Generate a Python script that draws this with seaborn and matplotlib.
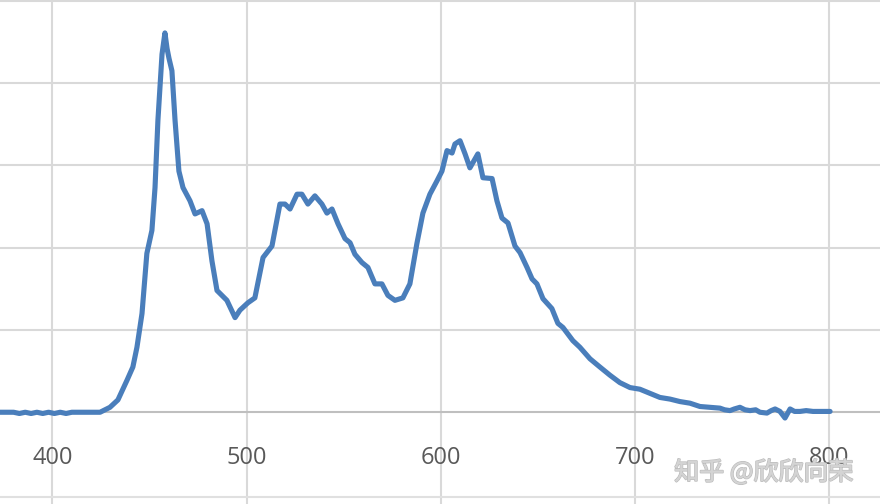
import matplotlib
matplotlib.use("Agg")
import matplotlib.pyplot as plt
import matplotlib.patheffects as pe
import seaborn as sns
import pandas as pd

# spectrum (wavelength in nm, relative intensity)
wavelength = [373.0, 380.0, 383.0, 386.0, 389.0, 392.0, 395.0, 398.0, 401.0, 404.0,
              407.0, 410.0, 415.0, 420.0, 424.5, 429.6, 433.7, 438.4, 441.4, 443.5,
              446.1, 448.6, 451.2, 452.8, 454.3, 456.4, 457.9, 459.0, 460.0, 461.5,
              463.1, 465.1, 467.2, 470.8, 473.4, 477.0, 479.6, 482.1, 484.7, 489.8,
              494.0, 496.5, 500.6, 504.2, 508.4, 513.0, 517.1, 519.7, 522.3, 525.9,
              528.4, 531.5, 535.1, 538.7, 541.3, 543.9, 547.0, 550.6, 553.2, 555.7,
              559.3, 562.4, 566.0, 569.6, 572.7, 576.3, 580.4, 584.0, 587.6, 590.7,
              594.3, 597.9, 600.5, 603.1, 605.7, 607.2, 609.8, 612.4, 614.9, 619.0,
              621.6, 626.3, 628.8, 631.4, 634.5, 638.1, 640.7, 644.3, 646.9, 649.4,
              652.5, 657.1, 660.2, 662.8, 667.9, 671.5, 676.7, 681.8, 687.0, 692.1,
              697.3, 702.4, 707.6, 712.7, 717.9, 723.0, 728.2, 733.3, 738.5, 743.6,
              746.0, 748.8, 751.0, 753.9, 756.5, 759.1, 762.0, 764.2, 767.8, 770.0,
              772.0, 774.5, 777.1, 779.7, 782.0, 784.8, 788.0, 791.5, 795.0, 800.3]
intensity = [0.00, 0.00, -0.015, 0.00, -0.015, 0.00, -0.015, 0.00, -0.015, 0.00,
             -0.015, 0.00, 0.00, 0.00, 0.00, 0.06, 0.15, 0.39, 0.55, 0.79,
             1.20, 1.93, 2.21, 2.73, 3.55, 4.35, 4.61, 4.42, 4.30, 4.15,
             3.55, 2.93, 2.73, 2.57, 2.41, 2.45, 2.29, 1.84, 1.48, 1.36,
             1.15, 1.24, 1.33, 1.39, 1.88, 2.02, 2.53, 2.53, 2.47, 2.65,
             2.65, 2.53, 2.63, 2.53, 2.42, 2.47, 2.29, 2.11, 2.06, 1.92,
             1.82, 1.76, 1.56, 1.56, 1.42, 1.36, 1.39, 1.56, 2.05, 2.42,
             2.65, 2.81, 2.93, 3.18, 3.15, 3.26, 3.30, 3.14, 2.97, 3.14,
             2.85, 2.84, 2.57, 2.36, 2.30, 2.02, 1.94, 1.76, 1.62, 1.56,
             1.38, 1.26, 1.08, 1.03, 0.87, 0.79, 0.65, 0.55, 0.45, 0.36,
             0.30, 0.28, 0.23, 0.18, 0.16, 0.13, 0.11, 0.07, 0.06, 0.05,
             0.03, 0.02, 0.04, 0.06, 0.03, 0.02, 0.03, 0.00, -0.01, 0.02,
             0.04, 0.01, -0.07, 0.04, 0.01, 0.01, 0.02, 0.01, 0.01, 0.01]

x_ticks = [400, 500, 600, 700, 800]
y_grid = [0, 1, 2, 3, 4, 5]
watermark = "知乎 @欣欣向荣"

df = pd.DataFrame({"wavelength": wavelength, "intensity": intensity})

sns.set_theme(style="white")
plt.rcParams["font.family"] = ["Open Sans", "DejaVu Sans"]

fig = plt.figure(figsize=(8.8, 5.04), dpi=100)
ax = fig.add_axes([0, 0, 1, 1])

# grid
for xv in x_ticks:
    ax.axvline(xv, color="#d9d9d9", lw=1.5, zorder=0)
for yv in y_grid[1:]:
    ax.axhline(yv, color="#d9d9d9", lw=1.5, zorder=0)
ax.axhline(0, color="#bfbfbf", lw=1.5, zorder=0)
ax.axhline(-1.03, color="#e0e0e0", lw=1.5, zorder=0)

sns.lineplot(data=df, x="wavelength", y="intensity", color="#4a7ebb",
             linewidth=3.7, ax=ax, zorder=3, solid_joinstyle="round",
             solid_capstyle="round")

ax.set_xlim(373.0, 826.0)
ax.set_ylim(-1.115, 5.01)
ax.set_xticks([])
ax.set_yticks([])
ax.set_xlabel("")
ax.set_ylabel("")
for s in ax.spines.values():
    s.set_visible(False)

for xv in x_ticks:
    ax.text(xv, -0.55, str(xv), ha="center", va="center", fontsize=17,
            color="#595959")

ax.text(0.868, 0.062, watermark, transform=ax.transAxes, ha="center",
        va="center", fontsize=18, color="#d4d4d4",
        family=["Noto Sans CJK SC", "DejaVu Sans"], zorder=5,
        path_effects=[pe.withStroke(linewidth=1.2, foreground="#bdbdbd"),
                      pe.Normal()])

fig.savefig("out.png", dpi=100)
